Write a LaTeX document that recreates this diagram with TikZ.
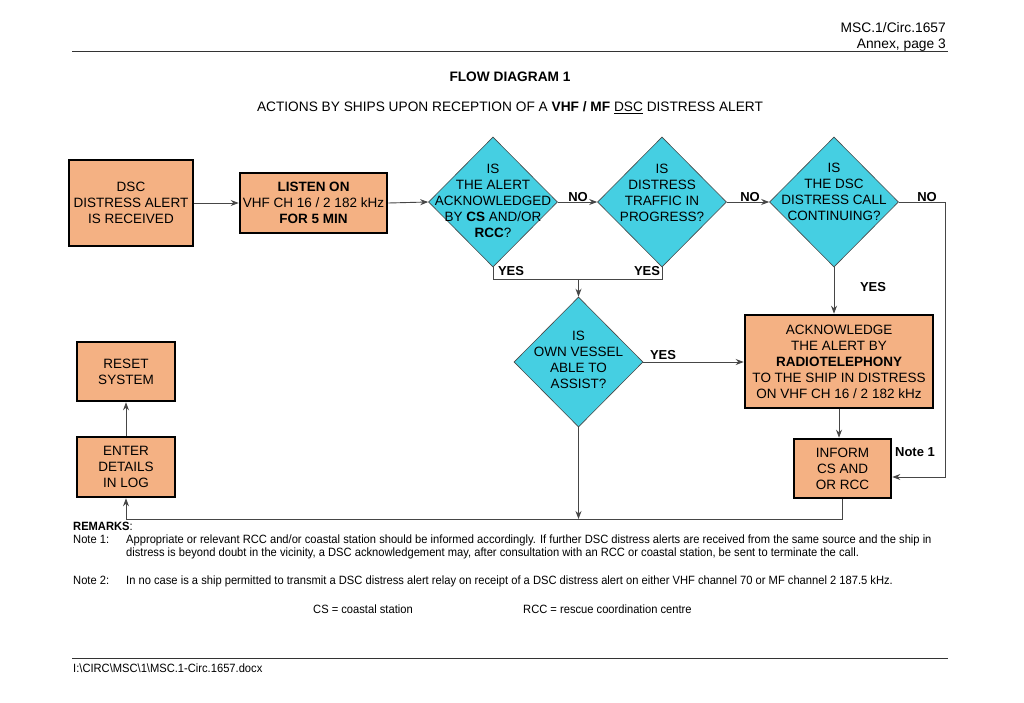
\documentclass[tikz,border=0pt]{standalone}
\usepackage{fontspec}
\setmainfont{Liberation Sans}
\newfontfamily\narrowfont[FakeStretch=0.93]{Liberation Sans}
\usetikzlibrary{shapes.geometric,arrows.meta}
\definecolor{salmon}{RGB}{244,177,131}
\definecolor{cyanfill}{RGB}{69,207,226}
\definecolor{linegray}{RGB}{70,70,70}
\begin{document}
\begin{tikzpicture}[x=1pt,y=-1pt,
  box/.style={draw=black, line width=2.6pt, fill=salmon, inner sep=0pt, align=center, font=\fontsize{13.5}{16}\selectfont},
  dia/.style={draw=linegray, line width=0.6pt, fill=cyanfill, diamond, inner sep=0pt, minimum width=129pt, minimum height=130pt},
  dtext/.style={align=center, font=\fontsize{13.5}{16}\selectfont, inner sep=0pt},
  conn/.style={draw=linegray, line width=0.9pt},
  arr/.style={conn, -{Stealth[length=8pt,width=6pt]}},
  lbl/.style={font=\bfseries\fontsize{13}{15}\selectfont, inner sep=0pt},
  hdr/.style={font=\fontsize{13.8}{16}\selectfont, inner sep=0pt},
  rem/.style={font=\narrowfont\fontsize{12}{13}\selectfont, inner sep=0pt, align=left},
  rule/.style={draw=black!80, line width=1pt}
]
\useasboundingbox[fill=white] (0,0) rectangle (1024,703);

% header
\node[hdr, anchor=base east] (h1) at (946,33) {MSC.1/Circ.1657};
\node[hdr, anchor=base east] (h2) at (946,49) {Annex, page 3};
\coordinate (r1a) at (72,52); \coordinate (r1b) at (948,52);
\draw[rule] (r1a) -- (r1b);
\node[hdr, font=\bfseries\fontsize{13.7}{16}\selectfont] (title) at (510,77) {FLOW DIAGRAM 1};
\node[hdr, font=\fontsize{13.7}{16}\selectfont] (sub) at (510,108) {ACTIONS BY SHIPS UPON RECEPTION OF A \textbf{VHF / MF} \underline{DSC} DISTRESS ALERT};

% boxes
\node[box, minimum width=124pt, minimum height=86pt] (b1) at (131,203) {DSC\\DISTRESS ALERT\\IS RECEIVED};
\node[box, minimum width=147pt, minimum height=60pt] (b2) at (313.5,203) {\textbf{LISTEN ON}\\VHF CH 16 / 2 182 kHz\\\textbf{FOR 5 MIN}};
\node[dia] (d1) at (493,202) {};
\node[dtext] (d1t) at (493,201) {IS\\THE ALERT\\ACKNOWLEDGED\\BY \textbf{CS} AND/OR\\\textbf{RCC}?};
\node[dia] (d2) at (662,202) {};
\node[dtext] (d2t) at (662,193) {IS\\DISTRESS\\TRAFFIC IN\\PROGRESS?};
\node[dia] (d3) at (834,202) {};
\node[dtext] (d3t) at (834,192) {IS\\THE DSC\\DISTRESS CALL\\CONTINUING?};
\node[dia] (d4) at (578.5,362) {};
\node[dtext] (d4t) at (578.5,360) {IS\\OWN VESSEL\\ABLE TO\\ASSIST?};
\node[box, minimum width=188pt, minimum height=93pt] (ack) at (839,361.5) {ACKNOWLEDGE\\THE ALERT BY\\\textbf{RADIOTELEPHONY}\\TO THE SHIP IN DISTRESS\\ON VHF CH 16 / 2 182 kHz};
\node[box, minimum width=97pt, minimum height=59pt] (inf) at (842.5,468.5) {INFORM\\CS AND\\OR RCC};
\node[box, minimum width=98pt, minimum height=60pt] (enter) at (126,467) {ENTER\\DETAILS\\IN LOG};
\node[box, minimum width=98pt, minimum height=59pt] (reset) at (126,371.5) {RESET\\SYSTEM};

% connectors
\draw[arr] (b1.east) -- (b2.west);
\draw[arr] (b2.east) -- (d1.west);
\draw[arr] (d1.east) -- (d2.west);
\draw[arr] (d2.east) -- (d3.west);
\coordinate (nocorner) at (945,202);
\draw[arr] (d3.east) -- (nocorner) |- ([yshift=-8.5pt]inf.east);
\coordinate (yj) at (578.5,279);
\draw[conn] (d1.south) -- (d1.south |- yj) -| (d2.south);
\draw[arr] (yj) -- (d4.north);
\draw[arr] (d3.south) -- (d3.south |- ack.north);
\draw[arr] (d4.east) -- (d4.east -| ack.west);
\draw[arr] (ack.south) -- (ack.south |- inf.north);
\coordinate (bl) at (126,519);
\draw[arr] (inf.south) -- (inf.south |- bl) -- (bl) -- (enter.south);
\draw[arr] (d4.south) -- (d4.south |- bl);
\draw[arr] (enter.north) -- (reset.south);

% labels
\node[lbl] (no1) at (578,197) {NO};
\node[lbl] (no2) at (750,197) {NO};
\node[lbl] (no3) at (927,197) {NO};
\node[lbl] (yes1) at (511,271) {YES};
\node[lbl] (yes2) at (647,271) {YES};
\node[lbl] (yes3) at (873,287) {YES};
\node[lbl] (yes4) at (663,355) {YES};
\node[lbl] (note1) at (915,452) {Note 1};

% remarks
\node[rem, anchor=base west] (remh) at (73,530) {\textbf{REMARKS}:};
\node[rem, anchor=base west] (n1l) at (73,543) {Note 1:};
\node[rem, anchor=base west] (n1t) at (126,543) {Appropriate or relevant RCC and/or coastal station should be informed accordingly. If further DSC distress alerts are received from the same source and the ship in};
\node[rem, anchor=base west] (n1t2) at (126,556) {distress is beyond doubt in the vicinity, a DSC acknowledgement may, after consultation with an RCC or coastal station, be sent to terminate the call.};
\node[rem, anchor=base west] (n2l) at (73,584) {Note 2:};
\node[rem, anchor=base west] (n2t) at (126,584) {In no case is a ship permitted to transmit a DSC distress alert relay on receipt of a DSC distress alert on either VHF channel 70 or MF channel 2 187.5 kHz.};
\node[rem, anchor=base west] (cs) at (313,613) {CS = coastal station};
\node[rem, anchor=base west] (rcc) at (523,613) {RCC = rescue coordination centre};

% footer
\coordinate (r2a) at (72,658); \coordinate (r2b) at (948,658);
\draw[rule] (r2a) -- (r2b);
\node[rem, anchor=base west] (foot) at (73,672) {I:\textbackslash CIRC\textbackslash MSC\textbackslash 1\textbackslash MSC.1-Circ.1657.docx};
\end{tikzpicture}
\end{document}
